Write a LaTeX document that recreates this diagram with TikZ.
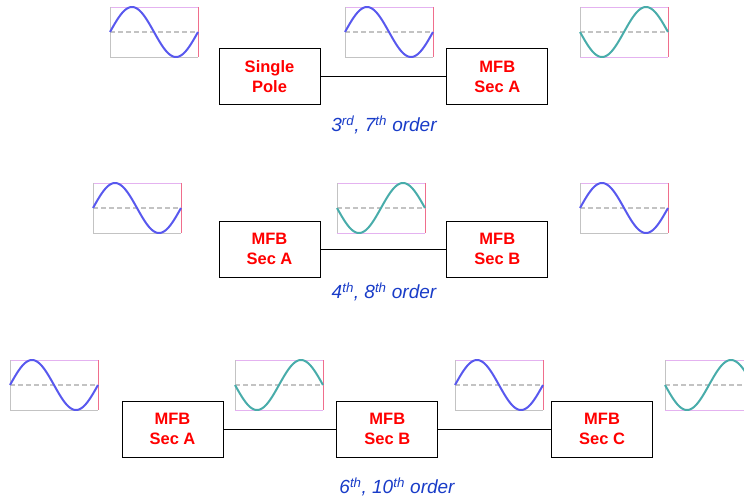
\documentclass[tikz,border=0pt]{standalone}
\usepackage{fontspec}
\setmainfont{Liberation Sans}
\usepackage{tikz}
\usetikzlibrary{positioning}
\usepackage{xcolor}

\definecolor{waveblue}{RGB}{88,88,238}
\definecolor{waveteal}{RGB}{72,172,170}
\definecolor{gridviolet}{RGB}{228,178,240}
\definecolor{gridred}{RGB}{240,110,140}
\definecolor{gridgray}{RGB}{195,195,195}
\definecolor{labelblue}{RGB}{25,60,200}

\begin{document}
\begin{tikzpicture}[
    x=1pt, y=-1pt,
    stage/.style={draw, line width=0.8pt, minimum width=101pt, minimum height=56pt,
                  align=center, text=red, font=\bfseries\fontsize{16.5}{20}\selectfont},
    order/.style={text=labelblue, font=\itshape\fontsize{19}{22}\selectfont},
    link/.style={line width=0.6pt},
    midline/.style={gridgray, dashed, line width=1.4pt, dash pattern=on 5pt off 3pt},
    frame/.style={line width=0.9pt}
]
\useasboundingbox (0,0) rectangle (744,497);
\clip (0,0) rectangle (744,497);

% --- Waveforms ---
\foreach \wx/\wy/\wcol/\wsg/\wbot in {110/7/waveblue/1/gridgray, 345/7/waveblue/1/gridgray,
    580/7/waveteal/-1/gridviolet, 93/183/waveblue/1/gridgray, 337/183/waveteal/-1/gridviolet,
    580/183/waveblue/1/gridgray, 10/360/waveblue/1/gridgray, 235/360/waveteal/-1/gridviolet,
    455/360/waveblue/1/gridgray, 665/360/waveteal/-1/gridviolet}
{
  \begin{scope}[shift={(\wx,\wy)}]
    \draw[frame, gridviolet] (0,0) -- (88,0);
    \draw[frame, \wbot] (0,50) -- (88,50);
    \draw[frame, gridgray] (0,0) -- (0,50);
    \draw[frame, gridred] (88,0) -- (88,50);
    \draw[midline] (0,25) -- (88,25);
    \draw[\wcol, line width=2pt, domain=0:360, samples=72, smooth]
      plot ({\x/360*88}, {25-\wsg*25*sin(\x)});
  \end{scope}
}

% --- 3rd / 7th order ---
\node[stage] (sp) at (269.5,76.5) {Single\\Pole};
\node[stage, right=126pt of sp] (sa1) {MFB\\Sec A};
\draw[link] (sp) -- (sa1);
\node[order] (o1) at (384,125) {3\textsuperscript{rd}, 7\textsuperscript{th} order};

% --- 4th / 8th order ---
\node[stage] (sa2) at (269.5,249) {MFB\\Sec A};
\node[stage, right=126pt of sa2] (sb2) {MFB\\Sec B};
\draw[link] (sa2) -- (sb2);
\node[order] (o2) at (384,292) {4\textsuperscript{th}, 8\textsuperscript{th} order};

% --- 6th / 10th order ---
\node[stage] (sa3) at (172.5,429) {MFB\\Sec A};
\node[stage, right=113pt of sa3] (sb3) {MFB\\Sec B};
\node[stage, right=113pt of sb3] (sc3) {MFB\\Sec C};
\draw[link] (sa3) -- (sb3);
\draw[link] (sb3) -- (sc3);
\node[order] (o3) at (397,487) {6\textsuperscript{th}, 10\textsuperscript{th} order};

\end{tikzpicture}
\end{document}
